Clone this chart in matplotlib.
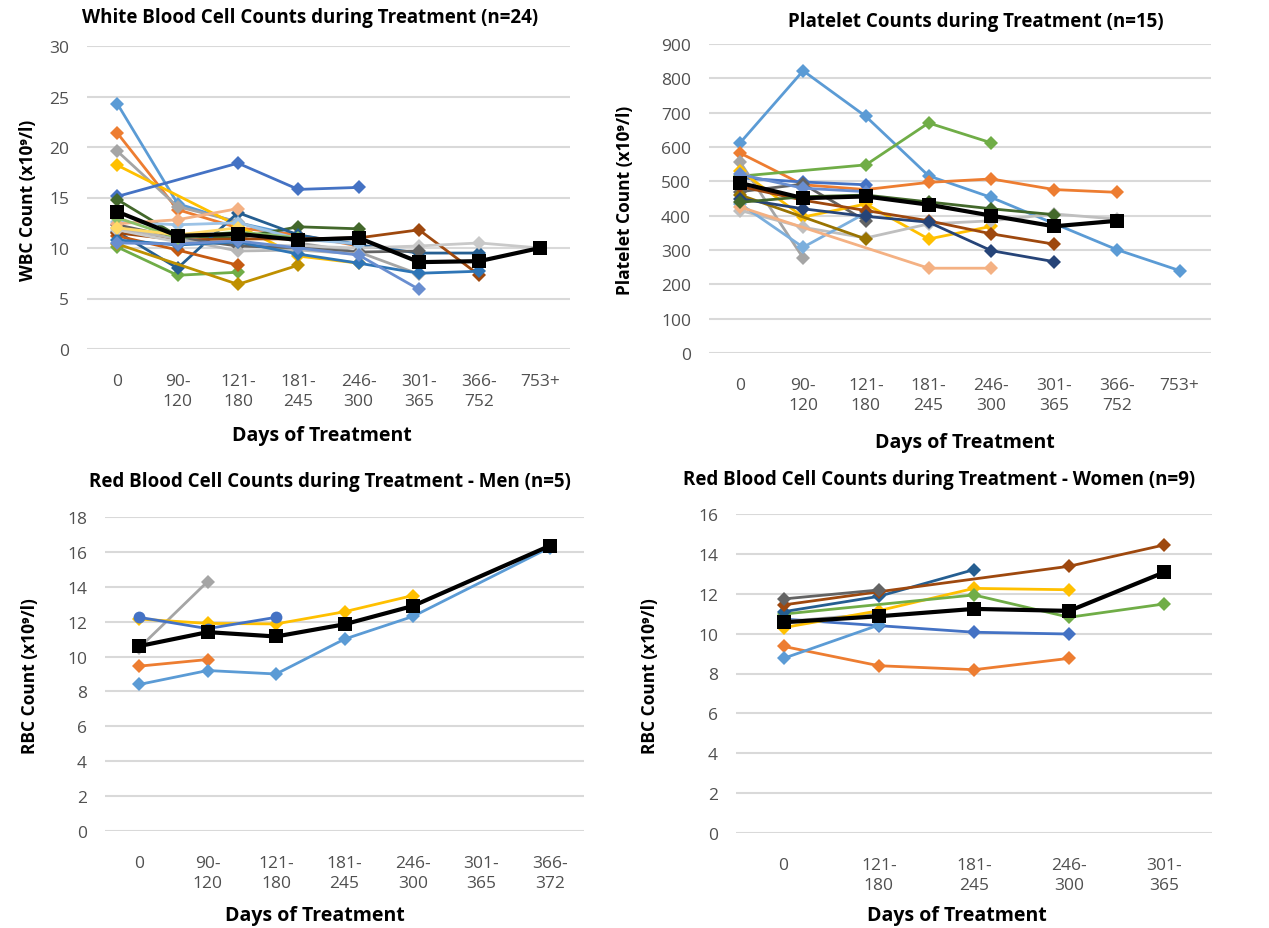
import numpy as np
import matplotlib
matplotlib.use("Agg")
import matplotlib.pyplot as plt

nan = np.nan

# ---------------- data ----------------
wbc_categories = ["0", "90-\n120", "121-\n180", "181-\n245", "246-\n300", "301-\n365", "366-\n752", "753+"]
wbc_s01 = [24.3, 14.4, 12.5, 11.2, 10.4]
wbc_s02 = [21.4, 13.8, 12.0, 11.3, 10.2]
wbc_s03 = [19.6, 14.1, 12.6, 10.5, 9.6, 7.4]
wbc_s04 = [18.2, nan, 12.2, 9.2, 8.5]
wbc_s05 = [15.1, nan, 18.4, 15.8, 16.0]
wbc_s06 = [10.1, 7.3, 7.6]
wbc_s07 = [14.8, 11.2, 11.0, 12.1, 11.9]
wbc_s08 = [11.6, 8.0, 13.5, 11.3, 10.3, 9.5, 9.5]
wbc_s09 = [11.2, 9.8, 8.3]
wbc_s10 = [10.4, nan, 6.4, 8.3]
wbc_s11 = [11.5, 10.8, 10.9, 10.9, 11.0, 11.8, 7.3]
wbc_s12 = [11.8, 10.6, 10.4, 10.2, 10.0, 10.2, 10.5, 10.0]
wbc_s13 = [12.3, 11.0, 10.2, 10.0, 9.6, 9.7]
wbc_s14 = [12.0, 10.9, 9.7, 9.8, 9.4]
wbc_s15 = [12.6, 12.3, 12.5, 10.9, 10.4]
wbc_s16 = [10.8, 10.3, 10.6, 9.4, 8.5, 7.5, 7.7]
wbc_s17 = [10.5, 10.4, 10.7, 10.0, 9.3, 5.9]
wbc_s18 = [12.4, 12.8, 13.9]
wbc_s19 = [13.0, 11.0, 11.6, 11.0]
wbc_s20 = [12.0, 11.3, 12.0]
wbc_mean = [13.6, 11.2, 11.4, 10.8, 11.0, 8.6, 8.7, 10.0]

plt_categories = ["0", "90-\n120", "121-\n180", "181-\n245", "246-\n300", "301-\n365", "366-\n752", "753+"]
plt_s01 = [613, 822, 689, 516, 453, nan, 301, 240]
plt_s02 = [582, 490, 476, 497, 507, 476, 468]
plt_s03 = [515, nan, 548, 670, 612]
plt_s04 = [510, 498, 490]
plt_s05 = [555, 277]
plt_s06 = [470, 492, 385]
plt_s07 = [531, 396, 434, 332, 369]
plt_s08 = [415, 366, 335, 376, 385, 405, 390]
plt_s09 = [434, 308, 408]
plt_s10 = [425, nan, nan, 247, 247]
plt_s11 = [460, nan, 332]
plt_s12 = [485, 445, 415, 385, 347, 317]
plt_s13 = [449, 420, 398, 381, 298, 266]
plt_s14 = [439, 455, 460, 440, 420, 403]
plt_s15 = [520, 480, 470]
plt_mean = [495, 451, 456, 432, 400, 369, 385]

men_categories = ["0", "90-\n120", "121-\n180", "181-\n245", "246-\n300", "301-\n365", "366-\n372"]
men_s01 = [12.25, 11.6, 12.25]
men_s02 = [9.45, 9.83]
men_s03 = [10.5, 14.3]
men_s04 = [12.15, 11.9, 11.87, 12.57, 13.5]
men_s05 = [8.4, 9.2, 9.0, 11.0, 12.3, nan, 16.25]
men_mean = [10.6, 11.4, 11.15, 11.85, 12.9, nan, 16.35]

women_categories = ["0", "121-\n180", "181-\n245", "246-\n300", "301-\n365"]
women_s01 = [10.73, 10.4, 10.07, 9.98]
women_s02 = [9.36, 8.39, 8.19, 8.76]
women_s03 = [10.6, 11.0]
women_s04 = [10.3, 11.15, 12.27, 12.2]
women_s05 = [8.76, 10.43]
women_s06 = [10.98, nan, 11.94, 10.82, 11.49]
women_s07 = [11.1, 11.87, 13.21]
women_s08 = [11.44, 12.1, nan, 13.38, 14.45]
women_s09 = [11.74, 12.19]
women_mean = [10.57, 10.87, 11.24, 11.14, 13.08]

# ---------------- style ----------------
FONT = ["Open Sans", "DejaVu Sans"]
plt.rcParams["font.family"] = FONT
TICK_COLOR = "#505050"
GRID_COLOR = "#D9D9D9"

W, H = 1269, 929
fig = plt.figure(figsize=(W / 100, H / 100), dpi=100)


def px_axes(left, right, top, bottom):
    return fig.add_axes([left / W, 1 - bottom / H, (right - left) / W, (bottom - top) / H])


def draw_series(ax, vals, color, marker="D", ms=7.2, lw=2.0, z=2):
    y = np.array(vals, dtype=float)
    x = np.arange(len(y))
    m = ~np.isnan(y)
    ax.plot(x[m], y[m], color=color, marker=marker, ms=ms, lw=lw, zorder=z,
            markeredgewidth=0)


def style_axes(ax, cats, ylim, ystep):
    n = len(cats)
    ax.set_xlim(-0.5, n - 0.5)
    ax.set_ylim(*ylim)
    ax.set_yticks(np.arange(ylim[0], ylim[1] + ystep / 2, ystep))
    ax.set_xticks(np.arange(n))
    ax.set_xticklabels(cats, linespacing=1.4)
    ax.tick_params(axis="both", length=0, labelsize=12.5, colors=TICK_COLOR)
    ax.tick_params(axis="x", pad=17)
    ax.tick_params(axis="y", pad=13)
    for s in ax.spines.values():
        s.set_visible(False)
    ax.grid(axis="y", color=GRID_COLOR, lw=1.5)
    ax.set_axisbelow(True)
    for lab in ax.get_xticklabels():
        lab.set_verticalalignment("top")


# ---------- WBC ----------
ax1 = px_axes(87, 570, 47, 350)
wbc_series = [wbc_s01, wbc_s02, wbc_s03, wbc_s04, wbc_s05, wbc_s06, wbc_s07, wbc_s08,
              wbc_s09, wbc_s10, wbc_s11, wbc_s12, wbc_s13, wbc_s14, wbc_s15, wbc_s16,
              wbc_s17, wbc_s18, wbc_s19, wbc_s20]
wbc_colors = ["#5B9BD5", "#ED7D31", "#A5A5A5", "#FFC000", "#4472C4", "#70AD47", "#43682B",
              "#255E91", "#C55A11", "#BF9000", "#9E480E", "#C9C9C9", "#636363", "#B7B7B7",
              "#9DC3E6", "#2E75B6", "#698ED0", "#F4B183", "#8CC168", "#FFD966"]
for vals, c in zip(wbc_series, wbc_colors):
    draw_series(ax1, vals, c)
draw_series(ax1, wbc_mean, "black", marker="s", ms=10, lw=3, z=5)
style_axes(ax1, wbc_categories, (0, 30), 5)

# ---------- Platelets ----------
ax2 = px_axes(709, 1211, 45, 354)
plt_series = [plt_s01, plt_s02, plt_s03, plt_s04, plt_s05, plt_s06, plt_s07, plt_s08,
              plt_s09, plt_s10, plt_s11, plt_s12, plt_s13, plt_s14, plt_s15]
plt_colors = ["#5B9BD5", "#ED7D31", "#70AD47", "#4472C4", "#A5A5A5", "#636363", "#FFC000",
              "#BFBFBF", "#7CAFDD", "#F4B183", "#997300", "#9E480E", "#264478", "#43682B",
              "#698ED0"]
for vals, c in zip(plt_series, plt_colors):
    draw_series(ax2, vals, c)
draw_series(ax2, plt_mean, "black", marker="s", ms=10, lw=3, z=5)
style_axes(ax2, plt_categories, (0, 900), 100)

# ---------- RBC men ----------
ax3 = px_axes(105, 584, 518, 832)
men_series = [men_s02, men_s03, men_s04, men_s05]
men_colors = ["#ED7D31", "#A5A5A5", "#FFC000", "#5B9BD5"]
for vals, c in zip(men_series, men_colors):
    draw_series(ax3, vals, c)
draw_series(ax3, men_s01, "#4472C4", marker="o", ms=8.5)
draw_series(ax3, men_mean, "black", marker="s", ms=10, lw=3, z=5)
style_axes(ax3, men_categories, (0, 18), 2)

# ---------- RBC women ----------
ax4 = px_axes(736, 1212, 515, 834)
women_series = [women_s01, women_s02, women_s03, women_s04, women_s05, women_s06,
                women_s07, women_s08, women_s09]
women_colors = ["#4472C4", "#ED7D31", "#A5A5A5", "#FFC000", "#5B9BD5", "#70AD47",
                "#255E91", "#9E480E", "#636363"]
for vals, c in zip(women_series, women_colors):
    draw_series(ax4, vals, c)
draw_series(ax4, women_mean, "black", marker="s", ms=10, lw=3, z=5)
style_axes(ax4, women_categories, (0, 16), 2)

# ---------- texts ----------
def ftext(x, y, s, size=13.5, **kw):
    fig.text(x / W, 1 - y / H, s, ha="center", va="center", fontweight="bold",
             fontsize=size, color="black", family=FONT, **kw)

ftext(310, 18, "White Blood Cell Counts during Treatment (n=24)")
ftext(976, 22, "Platelet Counts during Treatment (n=15)")
ftext(330, 482, "Red Blood Cell Counts during Treatment - Men (n=5)")
ftext(939, 480, "Red Blood Cell Counts during Treatment - Women (n=9)")

ftext(322, 436, "Days of Treatment", size=14)
ftext(965, 443, "Days of Treatment", size=14)
ftext(315, 916, "Days of Treatment", size=14)
ftext(957, 916, "Days of Treatment", size=14)

ftext(28, 200, "WBC Count (x10⁹/l)", size=12.5, rotation=90)
ftext(625, 200, "Platelet Count (x10⁹/l)", size=12.5, rotation=90)
ftext(30, 676, "RBC Count (x10⁹/l)", size=12.5, rotation=90)
ftext(650, 676, "RBC Count (x10⁹/l)", size=12.5, rotation=90)

fig.savefig("out.png", dpi=100, facecolor="white")
